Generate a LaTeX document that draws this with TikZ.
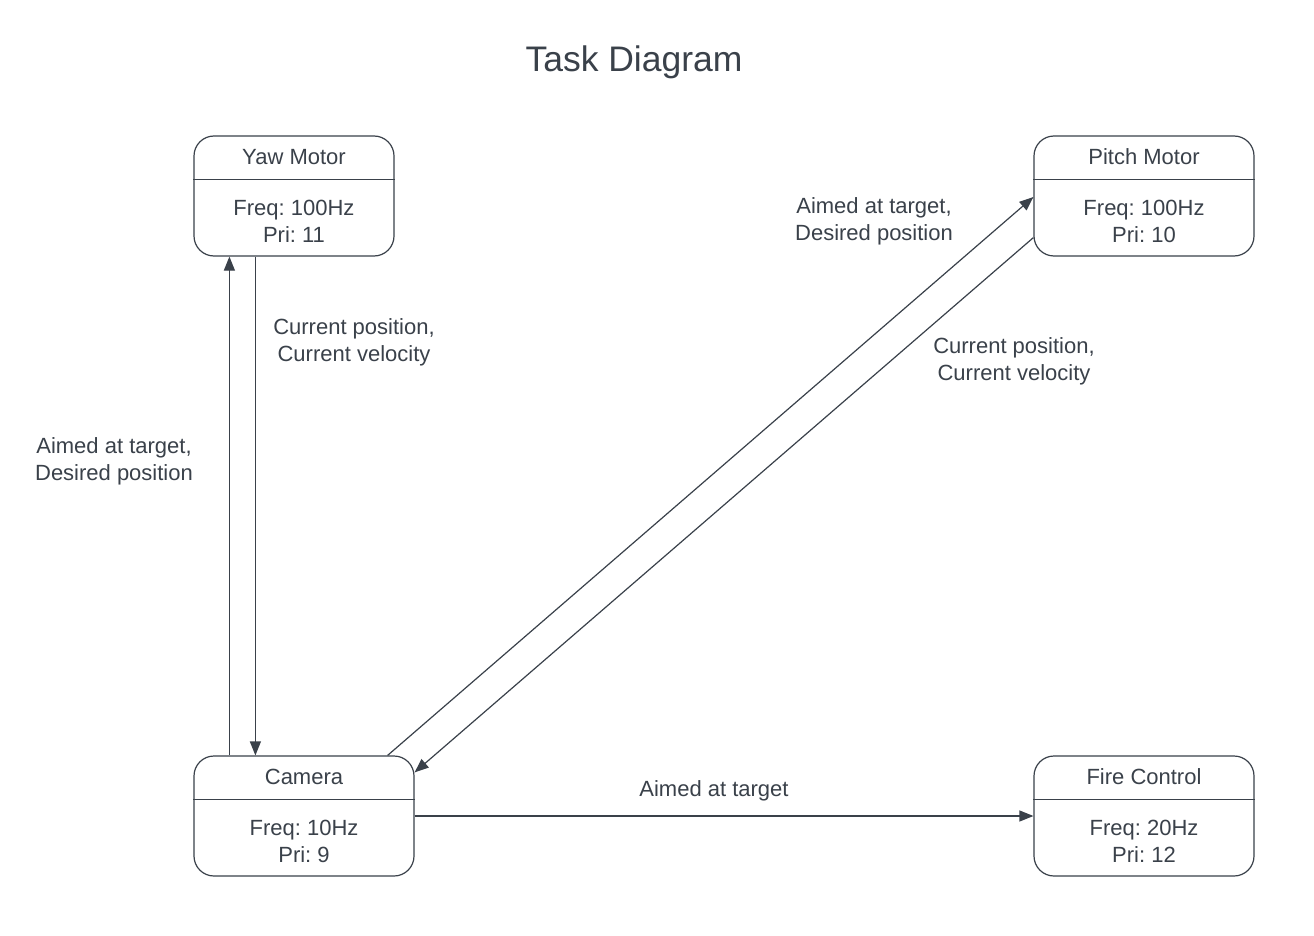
\documentclass[tikz,border=0pt]{standalone}
\usepackage{fontspec}
\setmainfont{Liberation Sans}
\usetikzlibrary{arrows.meta}
\frenchspacing
\definecolor{ink}{HTML}{3A414A}
\tikzset{
  box/.style={draw=ink, line width=1.2pt, rounded corners=20pt, inner sep=0pt},
  txt/.style={text=ink, font=\fontsize{22}{27}\selectfont\frenchspacing, align=center, inner sep=0pt},
  arr/.style={draw=ink, line width=1.2pt, -{Triangle[length=14pt,width=11pt]}},
  divider/.style={draw=ink, line width=1.2pt}
}
\begin{document}
\begin{tikzpicture}[x=1pt,y=-1pt]
\useasboundingbox[fill=white] (0,0) rectangle (1314,936);
\node[text=ink, font=\fontsize{35.5}{40}\selectfont, inner sep=0pt] (title) at (634,62) {Task Diagram};

% boxes
\node[box, minimum width=200pt, minimum height=120pt] (yaw) at (294,196) {};
\node[box, minimum width=220pt, minimum height=120pt] (pitch) at (1144,196) {};
\node[box, minimum width=220pt, minimum height=120pt] (cam) at (304,816) {};
\node[box, minimum width=220pt, minimum height=120pt] (fire) at (1144,816) {};

\draw[divider] ([yshift=-44pt]yaw.north west) -- ([yshift=-44pt]yaw.north east);
\draw[divider] ([yshift=-44pt]pitch.north west) -- ([yshift=-44pt]pitch.north east);
\draw[divider] ([yshift=-44pt]cam.north west) -- ([yshift=-44pt]cam.north east);
\draw[divider] ([yshift=-44pt]fire.north west) -- ([yshift=-44pt]fire.north east);

\node[txt] (yawt) at (294,157) {Yaw Motor};
\node[txt] (yawb) at (294,221) {Freq: 100Hz\\Pri: 11};
\node[txt] (pitcht) at (1144,157) {Pitch Motor};
\node[txt] (pitchb) at (1144,221) {Freq: 100Hz\\Pri: 10};
\node[txt] (camt) at (304,777) {Camera};
\node[txt] (camb) at (304,841) {Freq: 10Hz\\Pri: 9};
\node[txt] (firet) at (1144,777) {Fire Control};
\node[txt] (fireb) at (1144,841) {Freq: 20Hz\\Pri: 12};

% connectors
\draw[arr] ([xshift=36pt]cam.north west) -- ([xshift=36pt]yaw.south west);
\draw[arr] ([xshift=62pt]yaw.south west) -- ([xshift=62pt]cam.north west);
\draw[arr] ([xshift=-27pt]cam.north east) -- ([yshift=-1pt]pitch.west);
\draw[arr] ([yshift=19pt]pitch.south west) -- ([yshift=-17pt]cam.north east);
\draw[arr] (cam.east) -- (fire.west);

% labels
\node[txt] (l1) at (354,342) {Current position,\\Current velocity};
\node[txt] (l2) at (114,461) {Aimed at target,\\Desired position};
\node[txt] (l3) at (874,221) {Aimed at target,\\Desired position};
\node[txt] (l4) at (1014,361) {Current position,\\Current velocity};
\node[txt] (l5) at (714,791) {Aimed at target};
\end{tikzpicture}
\end{document}
